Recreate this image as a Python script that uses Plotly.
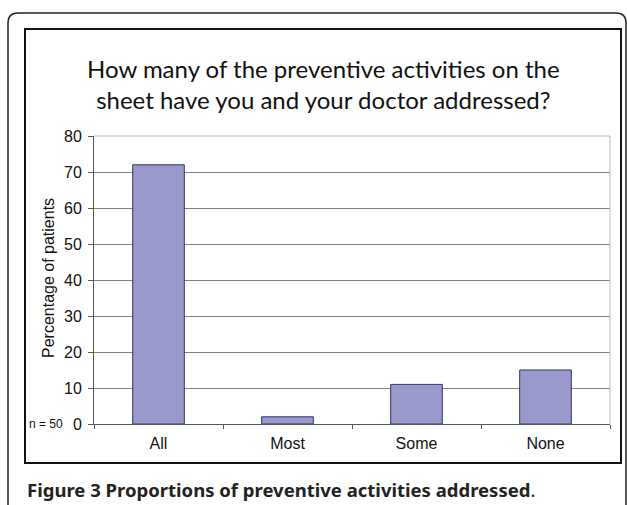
import plotly.graph_objects as go

categories = ["All", "Most", "Some", "None"]
percentages = [72, 2, 11, 15]
y_ticks = [0, 10, 20, 30, 40, 50, 60, 70, 80]

W, H = 627, 505
L, R, T, B = 94, 610, 136, 424


def xp(px):
    return (px - L) / (R - L)


def yp(py):
    return (B - py) / (B - T)


fig = go.Figure()
fig.add_trace(go.Bar(
    x=categories, y=percentages,
    marker=dict(color="#9999CC", line=dict(color="#333366", width=1)),
    width=0.4,
))

fig.update_layout(
    width=W, height=H,
    margin=dict(l=L, r=W - R, t=T, b=H - B),
    paper_bgcolor="white", plot_bgcolor="white",
    showlegend=False,
    bargap=0.6,
)

fig.update_xaxes(
    type="category",
    tickson="boundaries",
    ticks="outside", ticklen=4, tickcolor="#555555", tickwidth=1,
    showline=True, linecolor="#555555", linewidth=1,
    showgrid=False,
    tickfont=dict(family="Liberation Sans, Arial", size=16, color="#111111"),
    ticklabelstandoff=5,
)
fig.update_yaxes(
    range=[0, 80],
    tickvals=y_ticks,
    ticks="outside", ticklen=5, tickcolor="#555555", tickwidth=1,
    showline=True, linecolor="#555555", linewidth=1,
    showgrid=True, gridcolor="#808080", gridwidth=1,
    zeroline=False,
    tickfont=dict(family="Liberation Sans, Arial", size=16, color="#111111"),
    ticklabelstandoff=3,
)

shapes = []
# plot-area top and right border (light grey)
shapes.append(dict(type="line", xref="paper", yref="paper", x0=0, x1=1, y0=1, y1=1,
                   line=dict(color="#BBBBBB", width=1)))
shapes.append(dict(type="line", xref="paper", yref="paper", x0=1, x1=1, y0=0, y1=1,
                   line=dict(color="#BBBBBB", width=1)))
# inner chart frame
shapes.append(dict(type="rect", xref="paper", yref="paper",
                   x0=xp(25), x1=xp(621), y0=yp(463), y1=yp(29),
                   line=dict(color="#111111", width=2), layer="above"))
# outer rounded frame
x0, x1, yt, yb = xp(8), xp(626), yp(13), yp(520)
rx, ry = 10 / (R - L), 10 / (B - T)
path = (f"M {x0},{yb} L {x0},{yt - ry} Q {x0},{yt} {x0 + rx},{yt} "
        f"L {x1 - rx},{yt} Q {x1},{yt} {x1},{yt - ry} L {x1},{yb}")
shapes.append(dict(type="path", xref="paper", yref="paper", path=path,
                   line=dict(color="#222222", width=1.5), layer="above"))
fig.update_layout(shapes=shapes)

annotations = [
    dict(text="How many of the preventive activities on the<br>sheet have you and your doctor addressed?",
         x=xp(323), y=yp(84), xref="paper", yref="paper", showarrow=False,
         xanchor="center", yanchor="middle",
         font=dict(family="Lato", size=24, color="#111111")),
    dict(text="Percentage of patients", textangle=-90,
         x=xp(48), y=yp(278), xref="paper", yref="paper", showarrow=False,
         xanchor="center", yanchor="middle",
         font=dict(family="Liberation Sans, Arial", size=16, color="#111111")),
    dict(text="n = 50",
         x=xp(27), y=yp(424), xref="paper", yref="paper", showarrow=False,
         xanchor="left", yanchor="middle",
         font=dict(family="Liberation Sans, Arial", size=12, color="#111111")),
    dict(text="<b>Figure 3</b> <b>Proportions of preventive activities addressed</b>.",
         x=xp(25), y=yp(489), xref="paper", yref="paper", showarrow=False,
         xanchor="left", yanchor="middle",
         font=dict(family="Noto Sans", size=18.5, color="#222222")),
]
fig.update_layout(annotations=annotations)

fig.write_html("out.html", config={"displayModeBar": False},
               post_script="document.body.style.margin='0';")
